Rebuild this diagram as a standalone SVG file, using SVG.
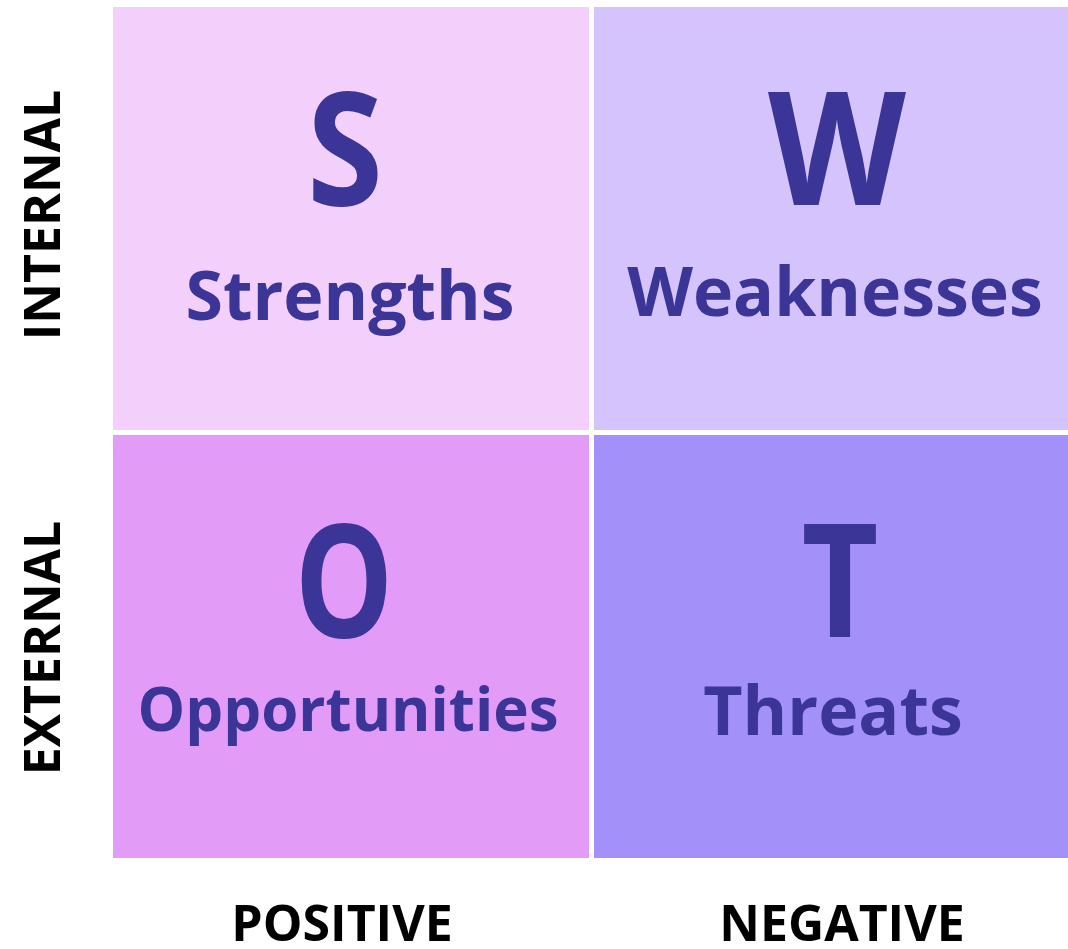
<svg xmlns="http://www.w3.org/2000/svg" width="1068" height="949" viewBox="0 0 1068 949">
<style>
.big{font-family:"Open Sans","Noto Sans",sans-serif;font-weight:700;font-size:158px;fill:#3b3597;text-anchor:middle}
.lbl{font-family:"Open Sans","Noto Sans",sans-serif;font-weight:700;font-size:68px;fill:#3b3597;text-anchor:middle}
.axis{font-family:"Open Sans","Noto Sans",sans-serif;font-weight:700;font-size:50px;fill:#000;text-anchor:middle}
</style>
<rect width="1068" height="949" fill="#fff"/>
<g id="strengths">
<rect x="113" y="7" width="476" height="423" fill="#f3d0fb"/>
<text class="big" x="345" y="205" textLength="76" lengthAdjust="spacingAndGlyphs">S</text>
<text class="lbl" x="350" y="320">Strengths</text>
</g>
<g id="weaknesses">
<rect x="594" y="7" width="474" height="423" fill="#d5c3fd"/>
<text class="big" x="837" y="205" textLength="138" lengthAdjust="spacingAndGlyphs">W</text>
<text class="lbl" x="835" y="316">Weaknesses</text>
</g>
<g id="opportunities">
<rect x="113" y="435" width="476" height="423" fill="#e29cf8"/>
<text class="big" x="344" y="637" textLength="99" lengthAdjust="spacingAndGlyphs">O</text>
<text class="lbl" x="348" y="731" style="font-size:60px">Opportunities</text>
</g>
<g id="threats">
<rect x="594" y="435" width="474" height="423" fill="#a391f9"/>
<text class="big" x="840" y="637" textLength="77" lengthAdjust="spacingAndGlyphs">T</text>
<text class="lbl" x="833" y="735">Threats</text>
</g>
<g id="axes">
<text class="axis" transform="translate(60,215) rotate(-90)">INTERNAL</text>
<text class="axis" transform="translate(60,648) rotate(-90)">EXTERNAL</text>
<text class="axis" x="342" y="941">POSITIVE</text>
<text class="axis" x="842" y="941">NEGATIVE</text>
</g>
<g id="connectors"></g>
</svg>
